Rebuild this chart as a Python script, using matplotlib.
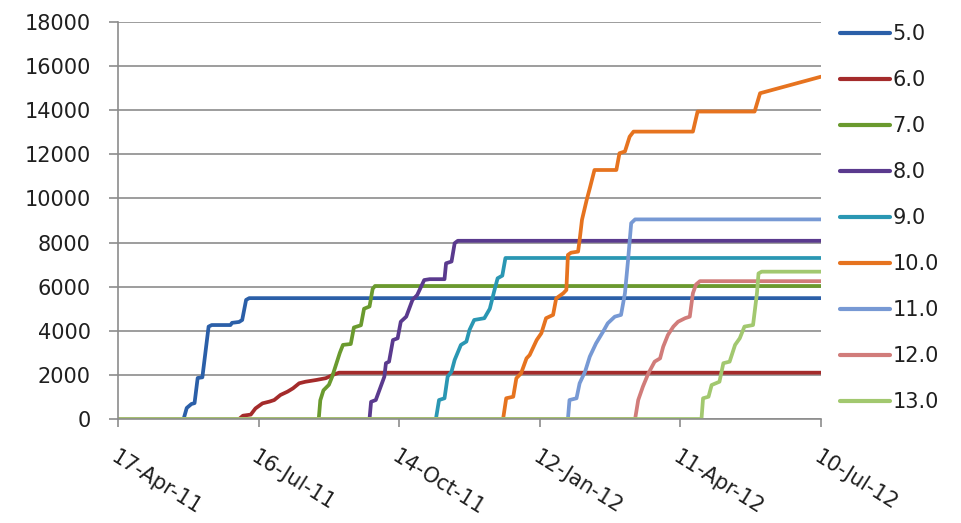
import matplotlib
matplotlib.use("Agg")
import matplotlib.pyplot as plt
import pandas as pd

# ---------------- data ----------------
start_date = "2011-04-17"
series_names = ["5.0", "6.0", "7.0", "8.0", "9.0", "10.0", "11.0", "12.0", "13.0"]
colors = ["#2B5FA8", "#A42B2B", "#6A9A2E", "#5A3A8E", "#2A97B3",
          "#E6731F", "#7799D4", "#D17C7A", "#A2C86F"]

# days since 17-Apr-11, cumulative values
days_5 = [0, 42, 44, 47, 49, 51, 54, 58, 60, 72, 73, 77.5, 79.5, 82, 84, 450]
vals_5 = [0, 0, 500, 680, 720, 1860, 1890, 4190, 4260, 4260, 4360, 4400, 4490, 5400, 5480, 5480]

days_6 = [0, 77.5, 80, 85, 88, 92.5, 97, 100, 104, 108.5, 112, 116, 120, 127, 133, 137.5, 141.5, 450]
vals_6 = [0, 0, 150, 200, 480, 710, 790, 860, 1090, 1240, 1390, 1620, 1690, 1770, 1850, 2000, 2100, 2100]

days_7 = [0, 128.5, 129.5, 131.5, 135, 137, 139.5, 142, 144, 149, 151, 155.5, 157.5, 161, 163, 164.5, 450]
vals_7 = [0, 0, 850, 1300, 1550, 1900, 2450, 3000, 3360, 3400, 4150, 4250, 5000, 5100, 5900, 6030, 6030]

days_8 = [0, 161, 162, 165, 170.5, 171.5, 173.5, 176, 179, 181, 184.5, 188.5, 191.5, 196, 199.5, 209, 210, 213.5, 215.5, 217.5, 450]
vals_8 = [0, 0, 780, 860, 1920, 2530, 2600, 3580, 3660, 4410, 4640, 5400, 5620, 6300, 6340, 6340, 7060, 7140, 7970, 8080, 8080]

days_9 = [0, 203.5, 205.5, 209, 211, 213.5, 215.5, 219.5, 223, 225, 228, 234.5, 238, 241, 243, 246, 248, 450]
vals_9 = [0, 0, 860, 940, 1920, 2150, 2680, 3360, 3510, 4040, 4490, 4570, 5000, 5850, 6380, 6500, 7300, 7300]

days_10 = [0, 246.5, 248.5, 253, 255, 258, 261.5, 263.5, 268, 271, 274, 278.5, 280.5, 285, 287, 288,
           290, 294.5, 295.5, 297, 300, 302, 305, 319, 321, 324.5, 327.5, 330, 368, 371, 407.5, 411, 450]
vals_10 = [0, 0, 940, 1010, 1850, 2070, 2750, 2900, 3580, 3890, 4570, 4720, 5470, 5700, 5850, 7440,
           7540, 7590, 8120, 9030, 9930, 10460, 11290, 11290, 12050, 12130, 12800, 13030, 13030, 13940, 13940, 14770, 15520]

days_11 = [0, 288, 289, 293.5, 295.5, 299, 302, 306, 310.5, 313.5, 318, 322, 324.5, 326.5, 328.5, 331, 450]
vals_11 = [0, 0, 860, 940, 1620, 2150, 2830, 3430, 3960, 4340, 4640, 4720, 5700, 7210, 8880, 9050, 9050]

days_12 = [0, 331, 333, 336, 339.5, 343.5, 347, 349, 352, 355.5, 358.5, 363, 366, 368, 370, 372.5, 450]
vals_12 = [0, 0, 860, 1470, 2070, 2600, 2750, 3280, 3810, 4190, 4410, 4570, 4640, 5700, 6100, 6250, 6250]

days_13 = [0, 373.5, 374.5, 378, 380, 385, 387.5, 391.5, 395, 398, 401, 406.5, 409, 410, 412, 450]
vals_13 = [0, 0, 940, 1010, 1540, 1690, 2530, 2600, 3360, 3660, 4190, 4260, 5700, 6600, 6680, 6680]

all_days = [days_5, days_6, days_7, days_8, days_9, days_10, days_11, days_12, days_13]
all_vals = [vals_5, vals_6, vals_7, vals_8, vals_9, vals_10, vals_11, vals_12, vals_13]

tick_days = [0, 90, 180, 270, 360, 450]
tick_labels = ["17-Apr-11", "16-Jul-11", "14-Oct-11", "12-Jan-12", "11-Apr-12", "10-Jul-12"]
y_ticks = [0, 2000, 4000, 6000, 8000, 10000, 12000, 14000, 16000, 18000]

# ---------------- plot ----------------
plt.rcParams["font.family"] = ["DejaVu Sans"]
FS = 15
TXT = "#1f1f1f"
GRID = "#8c8c8c"

W, H = 961, 523
fig = plt.figure(figsize=(W / 100, H / 100), dpi=100)
ax = fig.add_axes([118 / W, 1 - 419 / H, (821 - 118) / W, (419 - 22) / H])

start = pd.Timestamp(start_date)
for name, d, v, c in zip(series_names, all_days, all_vals, colors):
    x = start + pd.to_timedelta(d, unit="D")
    ax.plot(x, v, color=c, lw=2.7, label=name, solid_capstyle="round")

ax.set_xlim(start, start + pd.Timedelta(days=450))
ax.set_ylim(0, 18000)
ax.set_yticks(y_ticks)
ax.set_yticklabels([str(t) for t in y_ticks])
ax.set_xticks(start + pd.to_timedelta(tick_days, unit="D"))
ax.set_xticklabels(tick_labels)

for s in ["top", "right"]:
    ax.spines[s].set_visible(False)
for s in ["left", "bottom"]:
    ax.spines[s].set_color(GRID)
    ax.spines[s].set_linewidth(1.2)
ax.grid(axis="y", color=GRID, lw=1.2)
ax.set_axisbelow(True)

ax.tick_params(axis="y", direction="out", length=6.5, width=1.2, color=GRID,
               pad=13, labelsize=FS, labelcolor=TXT)
ax.tick_params(axis="x", direction="out", length=6, width=1.2, color=GRID,
               pad=14, labelsize=FS, labelcolor=TXT)
for lab in ax.get_xticklabels():
    lab.set_rotation(-32)
    lab.set_ha("left")
    lab.set_va("top")
    lab.set_rotation_mode("anchor")

leg = ax.legend(loc="upper left", bbox_to_anchor=(840 / W, 1 - 24 / H),
                bbox_transform=fig.transFigure, frameon=False, fontsize=FS,
                handlelength=2.4, handletextpad=0.12, labelspacing=1.25,
                borderaxespad=0, borderpad=0)
for t in leg.get_texts():
    t.set_color(TXT)
for l in leg.get_lines():
    l.set_linewidth(3.0)

fig.savefig("out.png", dpi=100)
